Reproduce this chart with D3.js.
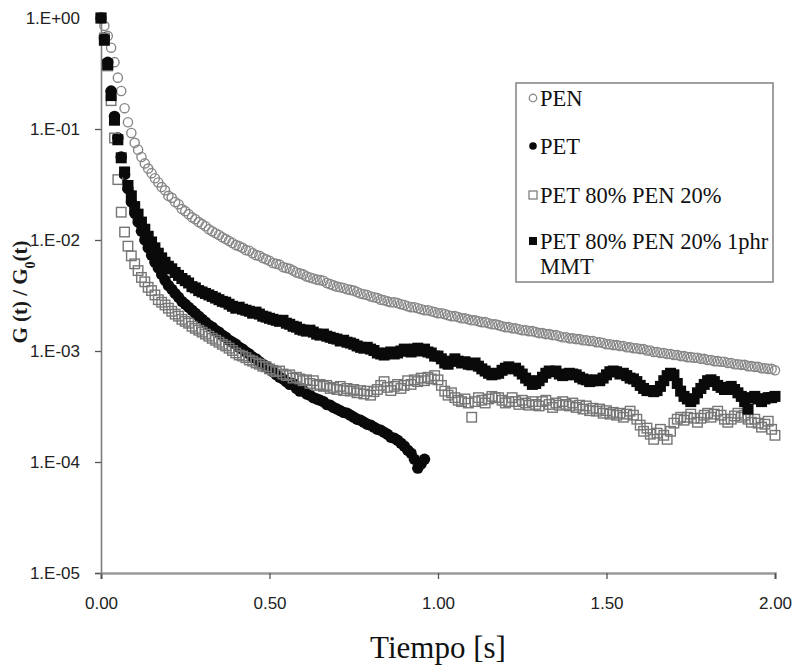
<!DOCTYPE html>
<html>
<head>
<meta charset="utf-8">
<script src="https://cdn.jsdelivr.net/npm/d3@7"></script>
<style>
  body { margin: 0; background: #fff; }
</style>
</head>
<body>
<svg id="chart"></svg>
<script>
// relaxation modulus G(t)/G0(t), sampled every 0.01 s
const timeStep = 0.01;

const pen = [1, 0.85, 0.69, 0.54, 0.40, 0.29, 0.22, 0.154, 0.115, 9.2e-2,
  7.5e-2, 6.5e-2, 5.6e-2, 4.9e-2, 4.4e-2, 4.0e-2, 3.6e-2, 3.3e-2, 3.0e-2, 2.8e-2,
  2.5e-2, 2.4e-2, 2.2e-2, 2.1e-2, 1.9e-2, 1.82e-2, 1.71e-2, 1.60e-2, 1.54e-2, 1.45e-2,
  1.39e-2, 1.33e-2, 1.25e-2, 1.20e-2, 1.15e-2, 1.11e-2, 1.06e-2, 1.02e-2, 9.8e-3, 9.4e-3,
  9.0e-3, 8.8e-3, 8.5e-3, 8.1e-3, 8.0e-3, 7.6e-3, 7.3e-3, 7.2e-3, 6.9e-3, 6.7e-3,
  6.5e-3, 6.2e-3, 6.1e-3, 6.0e-3, 5.7e-3, 5.6e-3, 5.5e-3, 5.3e-3, 5.1e-3, 5.0e-3,
  4.9e-3, 4.7e-3, 4.6e-3, 4.5e-3, 4.4e-3, 4.35e-3, 4.3e-3, 4.1e-3, 4.0e-3, 3.9e-3,
  3.8e-3, 3.75e-3, 3.7e-3, 3.6e-3, 3.55e-3, 3.5e-3, 3.4e-3, 3.3e-3, 3.25e-3, 3.2e-3,
  3.1e-3, 3.05e-3, 3.0e-3, 2.9e-3, 2.87e-3, 2.8e-3, 2.75e-3, 2.75e-3, 2.7e-3, 2.64e-3,
  2.6e-3, 2.53e-3, 2.48e-3, 2.48e-3, 2.43e-3, 2.38e-3, 2.33e-3, 2.33e-3, 2.28e-3, 2.24e-3,
  2.19e-3, 2.19e-3, 2.15e-3, 2.1e-3, 2.06e-3, 2.06e-3, 2.02e-3, 1.97e-3, 1.97e-3, 1.93e-3,
  1.89e-3, 1.89e-3, 1.85e-3, 1.82e-3, 1.82e-3, 1.78e-3, 1.74e-3, 1.74e-3, 1.71e-3, 1.67e-3,
  1.64e-3, 1.64e-3, 1.60e-3, 1.60e-3, 1.57e-3, 1.54e-3, 1.54e-3, 1.51e-3, 1.51e-3, 1.48e-3,
  1.45e-3, 1.45e-3, 1.42e-3, 1.42e-3, 1.39e-3, 1.39e-3, 1.36e-3, 1.33e-3, 1.33e-3, 1.30e-3,
  1.30e-3, 1.28e-3, 1.28e-3, 1.25e-3, 1.25e-3, 1.23e-3, 1.23e-3, 1.20e-3, 1.20e-3, 1.18e-3,
  1.15e-3, 1.15e-3, 1.13e-3, 1.13e-3, 1.11e-3, 1.11e-3, 1.08e-3, 1.08e-3, 1.06e-3, 1.06e-3,
  1.04e-3, 1.04e-3, 1.01e-3, 1.01e-3, 9.8e-4, 9.8e-4, 9.6e-4, 9.6e-4, 9.4e-4, 9.4e-4,
  9.2e-4, 9.2e-4, 9.0e-4, 9.0e-4, 8.8e-4, 8.8e-4, 8.7e-4, 8.7e-4, 8.5e-4, 8.5e-4,
  8.3e-4, 8.3e-4, 8.1e-4, 8.1e-4, 8.0e-4, 8.0e-4, 7.8e-4, 7.8e-4, 7.6e-4, 7.6e-4,
  7.5e-4, 7.5e-4, 7.3e-4, 7.3e-4, 7.2e-4, 7.2e-4, 7.0e-4, 7.0e-4, 6.9e-4, 6.9e-4,
  6.7e-4];

const pet = [1, 0.66, 0.40, 0.22, 0.13, 8.3e-2, 5.6e-2, 3.9e-2, 2.9e-2, 2.2e-2,
  1.74e-2, 1.45e-2, 1.20e-2, 1.0e-2, 8.5e-3, 7.3e-3, 6.3e-3, 5.6e-3, 4.9e-3, 4.35e-3,
  3.9e-3, 3.6e-3, 3.3e-3, 3.05e-3, 2.8e-3, 2.64e-3, 2.48e-3, 2.33e-3, 2.19e-3, 2.06e-3,
  1.93e-3, 1.82e-3, 1.71e-3, 1.64e-3, 1.54e-3, 1.48e-3, 1.39e-3, 1.33e-3, 1.25e-3, 1.20e-3,
  1.15e-3, 1.08e-3, 1.04e-3, 9.8e-4, 9.4e-4, 8.8e-4, 8.5e-4, 8.0e-4, 7.6e-4, 7.3e-4,
  6.9e-4, 6.5e-4, 6.1e-4, 5.8e-4, 5.6e-4, 5.3e-4, 5.0e-4, 5.1e-4, 4.6e-4, 4.35e-4,
  4.4e-4, 4.1e-4, 4.0e-4, 3.8e-4, 3.7e-4, 3.6e-4, 3.5e-4, 3.3e-4, 3.25e-4, 3.1e-4,
  3.0e-4, 2.9e-4, 2.8e-4, 2.75e-4, 2.64e-4, 2.53e-4, 2.43e-4, 2.38e-4, 2.28e-4, 2.19e-4,
  2.15e-4, 2.06e-4, 1.97e-4, 1.93e-4, 1.85e-4, 1.78e-4, 1.67e-4, 1.64e-4, 1.57e-4, 1.48e-4,
  1.39e-4, 1.28e-4, 1.20e-4, 1.06e-4, 8.8e-5, 9.6e-5, 1.06e-4];

const pet80pen20 = [1, 0.66, 0.37, 0.18, 8.3e-2, 3.5e-2, 1.78e-2, 1.18e-2, 8.8e-3, 7.2e-3,
  6.1e-3, 5.3e-3, 4.6e-3, 4.2e-3, 3.75e-3, 3.5e-3, 3.2e-3, 2.9e-3, 2.75e-3, 2.6e-3,
  2.43e-3, 2.28e-3, 2.15e-3, 2.06e-3, 1.93e-3, 1.85e-3, 1.78e-3, 1.67e-3, 1.60e-3, 1.54e-3,
  1.48e-3, 1.42e-3, 1.36e-3, 1.30e-3, 1.25e-3, 1.20e-3, 1.15e-3, 1.11e-3, 1.06e-3, 1.01e-3,
  9.6e-4, 9.2e-4, 9.0e-4, 8.7e-4, 8.3e-4, 8.1e-4, 7.8e-4, 7.6e-4, 7.3e-4, 7.2e-4,
  6.9e-4, 6.7e-4, 6.5e-4, 6.6e-4, 6.2e-4, 6.0e-4, 6.1e-4, 5.7e-4, 5.8e-4, 5.6e-4,
  5.4e-4, 5.5e-4, 5.1e-4, 5.4e-4, 4.9e-4, 5.0e-4, 4.8e-4, 4.9e-4, 4.6e-4, 4.7e-4,
  4.5e-4, 4.8e-4, 4.4e-4, 4.6e-4, 4.35e-4, 4.5e-4, 4.2e-4, 4.4e-4, 4.1e-4, 4.35e-4,
  4.0e-4, 4.3e-4, 4.5e-4, 4.9e-4, 5.3e-4, 4.7e-4, 4.4e-4, 4.8e-4, 5.0e-4, 4.6e-4,
  4.9e-4, 5.4e-4, 5.0e-4, 5.5e-4, 5.3e-4, 5.7e-4, 5.4e-4, 5.8e-4, 5.6e-4, 6.0e-4,
  5.5e-4, 4.9e-4, 4.35e-4, 4.0e-4, 4.2e-4, 3.8e-4, 3.6e-4, 3.5e-4, 3.7e-4, 3.4e-4,
  2.53e-4, 3.5e-4, 3.8e-4, 3.6e-4, 3.4e-4, 3.7e-4, 3.9e-4, 3.8e-4, 3.8e-4, 3.6e-4,
  3.4e-4, 3.5e-4, 3.8e-4, 3.5e-4, 3.3e-4, 3.6e-4, 3.4e-4, 3.25e-4, 3.5e-4, 3.3e-4,
  3.2e-4, 3.5e-4, 3.6e-4, 3.3e-4, 3.1e-4, 3.4e-4, 3.25e-4, 3.5e-4, 3.3e-4, 3.2e-4,
  3.4e-4, 3.1e-4, 3.25e-4, 3.0e-4, 3.2e-4, 2.9e-4, 3.05e-4, 2.87e-4, 3.0e-4, 2.75e-4,
  2.9e-4, 2.7e-4, 2.8e-4, 2.64e-4, 2.75e-4, 2.53e-4, 2.7e-4, 2.87e-4, 2.64e-4, 2.43e-4,
  2.15e-4, 1.89e-4, 2.02e-4, 1.78e-4, 1.60e-4, 1.82e-4, 1.97e-4, 1.74e-4, 1.60e-4, 1.89e-4,
  2.24e-4, 2.43e-4, 2.53e-4, 2.38e-4, 2.53e-4, 2.7e-4, 2.48e-4, 2.28e-4, 2.48e-4, 2.64e-4,
  2.75e-4, 2.53e-4, 2.7e-4, 2.87e-4, 2.64e-4, 2.43e-4, 2.28e-4, 2.43e-4, 2.6e-4, 2.75e-4,
  2.53e-4, 2.64e-4, 2.43e-4, 2.28e-4, 2.43e-4, 2.24e-4, 2.06e-4, 2.19e-4, 2.33e-4, 1.97e-4,
  1.74e-4];

const pet80pen20mmt = [1, 0.63, 0.38, 0.20, 0.12, 8.0e-2, 5.5e-2, 4.1e-2, 3.1e-2, 2.5e-2,
  2.0e-2, 1.71e-2, 1.45e-2, 1.25e-2, 1.08e-2, 9.6e-3, 8.5e-3, 7.6e-3, 6.9e-3, 6.3e-3,
  5.8e-3, 5.5e-3, 5.1e-3, 4.8e-3, 4.5e-3, 4.3e-3, 4.1e-3, 3.8e-3, 3.7e-3, 3.5e-3,
  3.4e-3, 3.3e-3, 3.2e-3, 3.1e-3, 3.0e-3, 2.9e-3, 2.8e-3, 2.75e-3, 2.64e-3, 2.53e-3,
  2.43e-3, 2.48e-3, 2.38e-3, 2.33e-3, 2.28e-3, 2.19e-3, 2.24e-3, 2.15e-3, 2.06e-3, 2.02e-3,
  1.97e-3, 1.93e-3, 1.89e-3, 1.85e-3, 1.89e-3, 1.78e-3, 1.74e-3, 1.67e-3, 1.64e-3, 1.57e-3,
  1.54e-3, 1.51e-3, 1.54e-3, 1.48e-3, 1.42e-3, 1.39e-3, 1.42e-3, 1.36e-3, 1.33e-3, 1.30e-3,
  1.28e-3, 1.23e-3, 1.25e-3, 1.20e-3, 1.18e-3, 1.15e-3, 1.11e-3, 1.08e-3, 1.06e-3, 1.08e-3,
  1.04e-3, 1.01e-3, 9.6e-4, 9.4e-4, 9.2e-4, 9.6e-4, 9.8e-4, 9.4e-4, 9.6e-4, 1.0e-3,
  1.04e-3, 1.0e-3, 9.8e-4, 1.04e-3, 1.06e-3, 1.0e-3, 1.04e-3, 9.8e-4, 9.6e-4, 9.0e-4,
  9.0e-4, 8.5e-4, 7.8e-4, 7.6e-4, 8.1e-4, 8.5e-4, 8.1e-4, 7.8e-4, 8.0e-4, 7.6e-4,
  7.5e-4, 7.8e-4, 7.3e-4, 6.9e-4, 6.6e-4, 6.3e-4, 6.1e-4, 6.2e-4, 6.3e-4, 6.7e-4,
  7.0e-4, 7.2e-4, 6.9e-4, 7.0e-4, 6.6e-4, 6.2e-4, 5.7e-4, 5.4e-4, 5.0e-4, 5.1e-4,
  5.4e-4, 5.8e-4, 6.3e-4, 6.6e-4, 6.5e-4, 6.6e-4, 6.2e-4, 6.0e-4, 6.1e-4, 6.3e-4,
  6.2e-4, 6.1e-4, 5.8e-4, 5.6e-4, 5.5e-4, 5.3e-4, 5.4e-4, 5.5e-4, 5.4e-4, 5.7e-4,
  6.1e-4, 6.5e-4, 6.6e-4, 6.5e-4, 6.2e-4, 6.3e-4, 6.0e-4, 5.7e-4, 5.6e-4, 5.3e-4,
  4.9e-4, 4.6e-4, 4.4e-4, 4.4e-4, 4.3e-4, 4.4e-4, 4.8e-4, 5.4e-4, 6.0e-4, 6.3e-4,
  6.1e-4, 5.1e-4, 4.35e-4, 3.9e-4, 3.7e-4, 3.5e-4, 3.7e-4, 4.2e-4, 4.6e-4, 5.0e-4,
  5.4e-4, 5.5e-4, 5.3e-4, 4.9e-4, 4.7e-4, 4.5e-4, 4.6e-4, 4.8e-4, 4.5e-4, 4.2e-4,
  3.9e-4, 3.5e-4, 3.0e-4, 3.8e-4, 3.9e-4, 3.7e-4, 3.5e-4, 3.7e-4, 3.8e-4, 3.8e-4,
  3.9e-4];

const seriesNames = ["PEN", "PET", "PET 80% PEN 20%", "PET 80% PEN 20% 1phr MMT"];
const xTickValues = [0, 0.5, 1, 1.5, 2];
const yTickValues = [1, 1e-1, 1e-2, 1e-3, 1e-4, 1e-5];
const yTickLabels = ["1.E+00", "1.E-01", "1.E-02", "1.E-03", "1.E-04", "1.E-05"];

const width = 795, height = 670;
const margin = { top: 18, right: 20, bottom: 97, left: 101 };

const svg = d3.select("#chart")
    .attr("width", width)
    .attr("height", height);

const x = d3.scaleLinear()
    .domain([0, 2])
    .range([margin.left, width - margin.right]);

const y = d3.scaleLog()
    .domain([1, 1e-5])
    .range([margin.top, height - margin.bottom]);

const toPoints = arr => arr.map((v, i) => ({ t: i * timeStep, g: v }));

const series = [
    { name: seriesNames[0], data: toPoints(pen), shape: "circle", fill: "none", stroke: "#878787", size: 4.6, sw: 1.4 },
    { name: seriesNames[1], data: toPoints(pet), shape: "circle", fill: "#0a0a0a", stroke: "none", size: 5.7, sw: 0 },
    { name: seriesNames[2], data: toPoints(pet80pen20), shape: "square", fill: "none", stroke: "#767676", size: 9.5, sw: 1.4 },
    { name: seriesNames[3], data: toPoints(pet80pen20mmt), shape: "square", fill: "#0a0a0a", stroke: "none", size: 11, sw: 0 }
];

// axes
const yAxis = svg.append("g")
    .attr("transform", `translate(${margin.left},0)`)
    .call(d3.axisLeft(y)
        .tickValues(yTickValues)
        .tickFormat((d, i) => yTickLabels[i])
        .tickSizeOuter(0)
        .tickSize(6)
        .tickPadding(15));

const xAxis = svg.append("g")
    .attr("transform", `translate(0,${height - margin.bottom})`)
    .call(d3.axisBottom(x)
        .tickValues(xTickValues)
        .tickFormat(d3.format(".2f"))
        .tickSizeOuter(0)
        .tickSize(6)
        .tickPadding(18));

yAxis.select(".domain").attr("stroke", "#7d7d7d").attr("stroke-width", 1.6);
xAxis.select(".domain").attr("stroke", "#9a9a9a").attr("stroke-width", 2.6);
svg.selectAll(".tick line").attr("stroke", "#555").attr("stroke-width", 1.3);
svg.selectAll(".tick text")
    .attr("fill", "#222")
    .style("font-family", "'Liberation Sans', Arial, sans-serif")
    .style("font-size", "17px");

// markers
const plot = svg.append("g");
series.forEach(s => {
    const g = plot.append("g");
    if (s.shape === "circle") {
        g.selectAll("circle")
            .data(s.data)
            .join("circle")
            .attr("cx", d => x(d.t))
            .attr("cy", d => y(d.g))
            .attr("r", s.size)
            .attr("fill", s.fill)
            .attr("stroke", s.stroke)
            .attr("stroke-width", s.sw);
    } else {
        g.selectAll("rect")
            .data(s.data)
            .join("rect")
            .attr("x", d => x(d.t) - s.size / 2)
            .attr("y", d => y(d.g) - s.size / 2)
            .attr("width", s.size)
            .attr("height", s.size)
            .attr("fill", s.fill)
            .attr("stroke", s.stroke)
            .attr("stroke-width", s.sw);
    }
});

// axis titles
svg.append("text")
    .attr("x", (margin.left + width - margin.right) / 2)
    .attr("y", 658)
    .attr("text-anchor", "middle")
    .style("font-family", "'Liberation Serif', 'Times New Roman', serif")
    .style("font-size", "31px")
    .attr("fill", "#111")
    .text("Tiempo [s]");

const yTitle = svg.append("text")
    .attr("transform", "translate(27,292) rotate(-90)")
    .attr("text-anchor", "middle")
    .style("font-family", "'Liberation Serif', 'Times New Roman', serif")
    .style("font-size", "21px")
    .style("font-weight", "bold")
    .attr("fill", "#1a1a1a");
yTitle.append("tspan").text("G (t) / G");
yTitle.append("tspan").attr("baseline-shift", "sub").style("font-size", "14px").text("0");
yTitle.append("tspan").text("(t)");

// legend
const legend = svg.append("g").attr("transform", "translate(516,83)");
legend.append("rect")
    .attr("width", 257)
    .attr("height", 199)
    .attr("fill", "#fff")
    .attr("stroke", "#8a8a8a")
    .attr("stroke-width", 1.6);

const legendRows = [15, 63, 112, 158];
series.forEach((s, i) => {
    const row = legend.append("g").attr("transform", `translate(17,${legendRows[i]})`);
    if (s.shape === "circle") {
        row.append("circle")
            .attr("r", 3.8)
            .attr("fill", s.fill === "none" ? "#fff" : s.fill)
            .attr("stroke", s.stroke)
            .attr("stroke-width", 1.2);
    } else {
        row.append("rect")
            .attr("x", -4)
            .attr("y", -4)
            .attr("width", 8)
            .attr("height", 8)
            .attr("fill", s.fill === "none" ? "#fff" : s.fill)
            .attr("stroke", s.stroke)
            .attr("stroke-width", 1.2);
    }
    const label = row.append("text")
        .attr("x", 7)
        .attr("y", 7.5)
        .style("font-family", "'Liberation Serif', 'Times New Roman', serif")
        .style("font-size", "22.5px")
        .attr("fill", "#111");
    if (i === 3) {
        label.append("tspan").text("PET 80% PEN 20% 1phr");
        label.append("tspan").attr("x", 7).attr("dy", 25).text("MMT");
    } else {
        label.text(s.name);
    }
});
</script>
</body>
</html>
